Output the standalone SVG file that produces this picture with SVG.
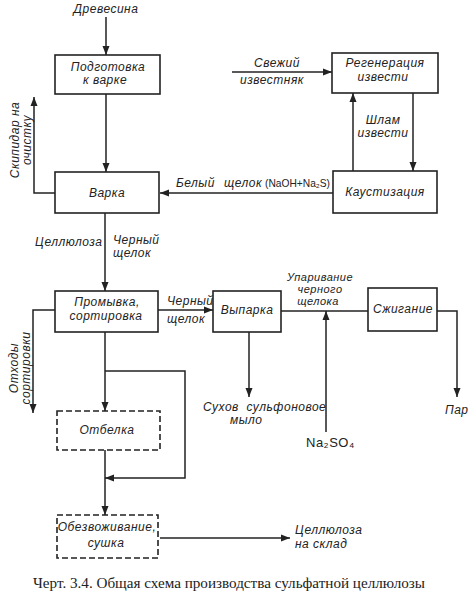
<svg xmlns="http://www.w3.org/2000/svg" width="474" height="608" viewBox="0 0 474 608">
<style>
.box{fill:#fff;stroke:#222;stroke-width:1.6}
.dash{fill:#fff;stroke:#222;stroke-width:1.6;stroke-dasharray:6 3}
.ln{fill:none;stroke:#222;stroke-width:1.5}
.t{font-family:"Liberation Sans","DejaVu Sans",sans-serif;font-style:italic;font-size:12px;fill:#222;letter-spacing:0.5px}
.s{font-size:11px}
.c{text-anchor:middle}
.cap{font-family:"Liberation Serif","Times New Roman",serif;font-size:15px;fill:#222}
</style>
<defs>
<marker id="ar" markerUnits="userSpaceOnUse" markerWidth="10" markerHeight="8" refX="9" refY="4" orient="auto">
<path d="M0,0.5 L9,4 L0,7.5 Z" fill="#222"/>
</marker>
</defs>
<rect width="474" height="608" fill="#fff"/>
<g id="connectors">
<line class="ln" x1="106" y1="17" x2="106" y2="55" marker-end="url(#ar)"/>
<line class="ln" x1="106" y1="94" x2="106" y2="172" marker-end="url(#ar)"/>
<polyline class="ln" points="55,193 34,193 34,97" marker-end="url(#ar)"/>
<line class="ln" x1="333" y1="193" x2="160" y2="193" marker-end="url(#ar)"/>
<line class="ln" x1="232" y1="72" x2="332" y2="72" marker-end="url(#ar)"/>
<line class="ln" x1="353" y1="171" x2="353" y2="93" marker-end="url(#ar)"/>
<line class="ln" x1="413" y1="93" x2="413" y2="171" marker-end="url(#ar)"/>
<line class="ln" x1="105" y1="213" x2="105" y2="291" marker-end="url(#ar)"/>
<line class="ln" x1="158" y1="310" x2="213" y2="310" marker-end="url(#ar)"/>
<polyline class="ln" points="55,310 33,310 33,413" marker-end="url(#ar)"/>
<line class="ln" x1="105" y1="332" x2="105" y2="411" marker-end="url(#ar)"/>
<polyline class="ln" points="105,371 185,371 185,478 105,478" marker-end="url(#ar)"/>
<line class="ln" x1="105" y1="450" x2="105" y2="515" marker-end="url(#ar)"/>
<line class="ln" x1="160" y1="538" x2="290" y2="538" marker-end="url(#ar)"/>
<line class="ln" x1="249" y1="332" x2="249" y2="397" marker-end="url(#ar)"/>
<line class="ln" x1="281" y1="311" x2="368" y2="311"/>
<line class="ln" x1="326" y1="432" x2="326" y2="311" marker-end="url(#ar)"/>
<polyline class="ln" points="437,311 457,311 457,397" marker-end="url(#ar)"/>
</g>
<g id="labels">
<text class="t c" x="106" y="13">Древесина</text>
<text class="t c" transform="translate(19,140) rotate(-90)">Скипидар на</text>
<text class="t c" transform="translate(31,140) rotate(-90)">очистку</text>
<text class="t" x="176" y="187">Белый</text>
<text class="t" x="224" y="187">щелок</text>
<text class="t" x="265" y="187" style="font-size:10.5px;font-style:normal;letter-spacing:0" textLength="65" lengthAdjust="spacingAndGlyphs">(NaOH+Na₂S)</text>
<text class="t c" x="277" y="67">Свежий</text>
<text class="t c" x="272" y="84">известняк</text>
<text class="t c" x="383" y="124">Шлам</text>
<text class="t c" x="383" y="137">извести</text>
<text class="t" x="35" y="246">Целлюлоза</text>
<text class="t" x="113" y="244">Черный</text>
<text class="t" x="113" y="257">щелок</text>
<text class="t" x="167" y="305">Черный</text>
<text class="t" x="167" y="323">щелок</text>
<text class="t c" transform="translate(18,368) rotate(-90)">Отходы</text>
<text class="t c" transform="translate(30,368) rotate(-90)">сортировки</text>
<text class="t s c" x="320" y="281">Упаривание</text>
<text class="t s c" x="320" y="293">черного</text>
<text class="t s c" x="318" y="305">щелока</text>
<text class="t" x="203" y="411" xml:space="preserve">Сухов  сульфоновое</text>
<text class="t" x="230" y="424">мыло</text>
<text class="t" x="306" y="447" style="font-style:normal;font-size:13px">Na₂SO₄</text>
<text class="t" x="445" y="414">Пар</text>
<text class="t" x="295" y="534">Целлюлоза</text>
<text class="t" x="295" y="548">на склад</text>
</g>
<g id="podgotovka">
<rect class="box" x="55" y="55" width="105" height="39"/>
<text class="t c" x="108" y="71">Подготовка</text>
<text class="t c" x="105" y="84">к варке</text>
</g>
<g id="varka">
<rect class="box" x="55" y="172" width="104" height="41"/>
<text class="t c" x="107" y="197">Варка</text>
</g>
<g id="regeneratsiya">
<rect class="box" x="332" y="53" width="106" height="40"/>
<text class="t c" x="385" y="67">Регенерация</text>
<text class="t c" x="383" y="81">извести</text>
</g>
<g id="kaustizatsiya">
<rect class="box" x="333" y="171" width="104" height="42"/>
<text class="t c" x="385" y="196">Каустизация</text>
</g>
<g id="promyvka">
<rect class="box" x="55" y="291" width="103" height="41"/>
<text class="t c" x="107" y="306">Промывка,</text>
<text class="t c" x="106" y="320">сортировка</text>
</g>
<g id="vyparka">
<rect class="box" x="213" y="291" width="68" height="41"/>
<text class="t c" x="247" y="314">Выпарка</text>
</g>
<g id="szhiganie">
<rect class="box" x="368" y="288" width="69" height="43"/>
<text class="t c" x="403" y="313">Сжигание</text>
</g>
<g id="otbelka">
<rect class="dash" x="57" y="411" width="103" height="39"/>
<text class="t c" x="107" y="434">Отбелка</text>
</g>
<g id="obezvozhivanie">
<rect class="dash" x="57" y="515" width="101" height="43"/>
<text class="t c" x="107" y="531">Обезвоживание,</text>
<text class="t c" x="106" y="547">сушка</text>
</g>
<text class="cap" x="33" y="588" textLength="392" lengthAdjust="spacingAndGlyphs">Черт. 3.4. Общая схема производства сульфатной целлюлозы</text>
</svg>
